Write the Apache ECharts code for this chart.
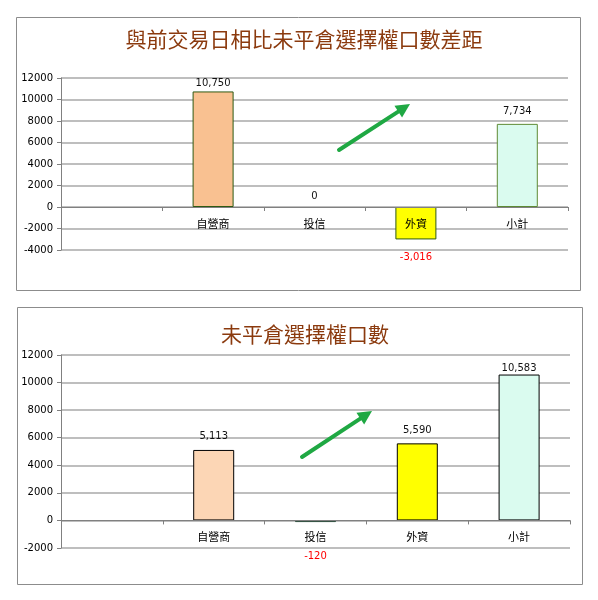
<!DOCTYPE html>
<html>
<head>
<meta charset="utf-8">
<script src="https://cdn.jsdelivr.net/npm/echarts@6/dist/echarts.min.js"></script>
<style>
html,body{margin:0;padding:0;background:#fff;}
#c{width:598px;height:600px;}
</style>
</head>
<body>
<div id="c"></div>
<script>
// ---- data ----
const categories = ['', '自營商', '投信', '外資', '小計'];
const diffValues = [null, 10750, 0, -3016, 7734];
const oiValues = [null, 5113, -120, 5590, 10583];
const titleTop = '與前交易日相比未平倉選擇權口數差距';
const titleBottom = '未平倉選擇權口數';
const yTicksTop = { min: -4000, max: 12000, interval: 2000 };
const yTicksBottom = { min: -2000, max: 12000, interval: 2000 };

// ---- styles ----
const topFill = [null, '#F9C191', '#FFFFFF', '#FFFF00', '#DAFBEF'];
const topBorder = [null, '#2E5A12', '#2E5A12', '#2E5A12', '#5E8A34'];
const botFill = [null, '#FCD6B5', '#CFE8DC', '#FFFF00', '#DAFBEF'];
const botBorder = [null, '#000000', '#2F4F3F', '#000000', '#000000'];
const topGap = [0, 3.5, 6, 12.5, 7];
const botGap = [0, 9, 29, 8, 1.5];

function buildData(vals, fills, borders, gaps) {
  return vals.map((v, i) => {
    if (v === null) return { value: null };
    return {
      value: v,
      itemStyle: { color: fills[i], borderColor: borders[i], borderWidth: v === 0 ? 0 : 1 },
      label: {
        position: v < 0 ? 'bottom' : 'top',
        distance: gaps[i],
        color: v < 0 ? '#FF0000' : '#111111'
      }
    };
  });
}

const chart = echarts.init(document.getElementById('c'), null, { renderer: 'canvas' });

const gridLine = { show: true, lineStyle: { color: '#A9A9A9', width: 1.5 } };
const yLabel = { color: '#000', fontSize: 10, fontFamily: 'DejaVu Sans', margin: 8, formatter: v => String(v) };
const axisLineStyle = { show: true, lineStyle: { color: '#808080', width: 1 } };
const xMargins = [-32, -17];

function arrow(x1, y1, x2, y2) {
  const ang = Math.atan2(y2 - y1, x2 - x1);
  const L = 14, W = 7;
  const bx = x2 - L * Math.cos(ang), by = y2 - L * Math.sin(ang);
  const px = -Math.sin(ang) * W, py = Math.cos(ang) * W;
  return [
    { type: 'line', shape: { x1: x1, y1: y1, x2: bx, y2: by },
      style: { stroke: '#1FA843', lineWidth: 4, lineCap: 'round' }, z: 10 },
    { type: 'polygon', shape: { points: [[x2, y2], [bx + px, by + py], [bx - px, by - py]] },
      style: { fill: '#1FA843' }, z: 10 }
  ];
}

const option = {
  animation: false,
  backgroundColor: '#fff',
  title: [
    { text: titleTop, left: 299, top: 24, textAlign: 'center',
      textStyle: { color: '#8B3A0E', fontSize: 21, fontWeight: 'normal', fontFamily: 'Noto Sans CJK TC' } },
    { text: titleBottom, left: 300, top: 319, textAlign: 'center',
      textStyle: { color: '#8B3A0E', fontSize: 21, fontWeight: 'normal', fontFamily: 'Noto Sans CJK TC' } }
  ],
  graphic: [
    { type: 'rect', shape: { x: 16.5, y: 17.5, width: 564, height: 273 },
      style: { fill: 'none', stroke: '#8C8C8C', lineWidth: 1 }, z: -1 },
    { type: 'rect', shape: { x: 17.5, y: 307.5, width: 565, height: 277 },
      style: { fill: 'none', stroke: '#8C8C8C', lineWidth: 1 }, z: -1 }
  ].concat(arrow(339, 150, 410, 104), arrow(302, 457, 372, 411)),
  grid: [
    { left: 61, right: 30, top: 78, bottom: 350 },
    { left: 61, right: 28, top: 355, bottom: 52 }
  ],
  xAxis: [0, 1].map(i => ({
    type: 'category', gridIndex: i, data: categories, z: 5,
    axisLine: Object.assign({ onZero: true }, axisLineStyle),
    axisTick: { show: true, length: 4, lineStyle: { color: '#808080' } },
    axisLabel: { color: '#000', fontSize: 11, fontFamily: 'Noto Sans CJK TC', margin: xMargins[i], hideOverlap: false },
    splitLine: { show: false }
  })),
  yAxis: [
    Object.assign({ type: 'value', gridIndex: 0 }, yTicksTop, {
      axisLine: axisLineStyle, axisTick: { show: true, length: 4, lineStyle: { color: '#808080' } },
      axisLabel: yLabel, splitLine: gridLine }),
    Object.assign({ type: 'value', gridIndex: 1 }, yTicksBottom, {
      axisLine: axisLineStyle, axisTick: { show: true, length: 4, lineStyle: { color: '#808080' } },
      axisLabel: yLabel, splitLine: gridLine })
  ],
  series: [
    { type: 'bar', xAxisIndex: 0, yAxisIndex: 0, barWidth: 41,
      data: buildData(diffValues, topFill, topBorder, topGap),
      label: { show: true, fontSize: 10, fontFamily: 'DejaVu Sans',
        formatter: p => p.value === null ? '' : Number(p.value).toLocaleString('en-US') } },
    { type: 'bar', xAxisIndex: 1, yAxisIndex: 1, barWidth: 41,
      data: buildData(oiValues, botFill, botBorder, botGap),
      label: { show: true, fontSize: 10, fontFamily: 'DejaVu Sans',
        formatter: p => p.value === null ? '' : Number(p.value).toLocaleString('en-US') } }
  ]
};
chart.setOption(option);
</script>
</body>
</html>
